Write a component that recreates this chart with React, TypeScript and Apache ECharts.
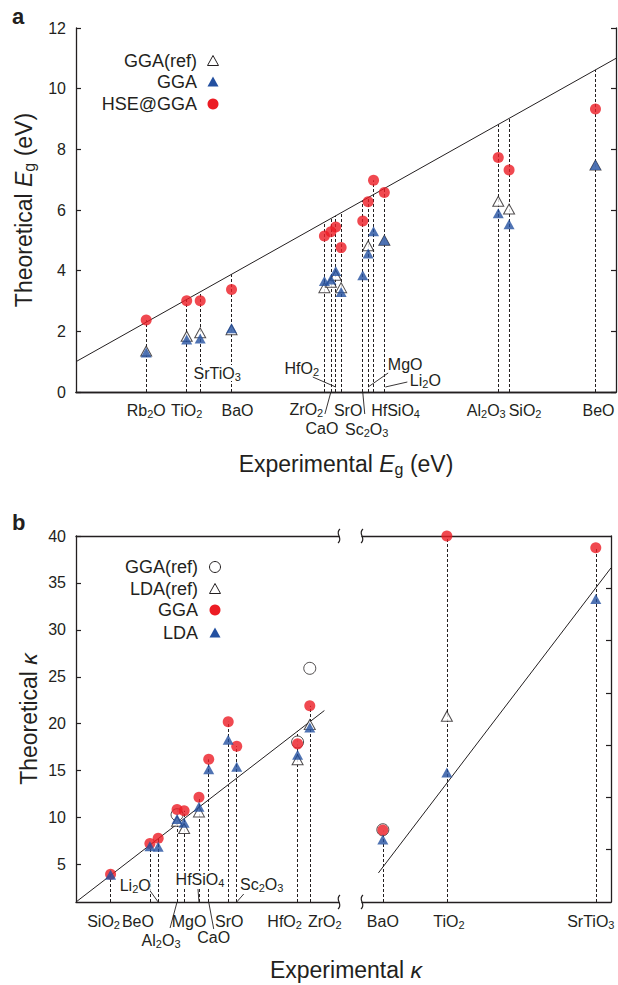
import React, { useEffect, useRef } from 'react';
import * as echarts from 'echarts';

const FONT = '"Liberation Sans", Arial, Helvetica, sans-serif';
const INK = '#231f20';
const RED = '#ec1c24';
const BLUE = '#2350a0';
const W = 618;
const H = 985;

// ---------------- Panel a data (band gaps, eV) ----------------
const aMaterials = ['Rb2O', 'TiO2', 'SrTiO3', 'BaO', 'ZrO2', 'CaO', 'HfO2', 'SrO', 'Sc2O3', 'MgO', 'HfSiO4', 'Li2O', 'Al2O3', 'SiO2', 'BeO'];
const aExperimental = [2.30, 3.05, 3.30, 3.88, 5.60, 5.72, 5.81, 5.91, 6.31, 6.41, 6.51, 6.71, 8.82, 9.02, 10.62];
const aHseAtGga = [2.37, 3.01, 3.01, 3.38, 5.14, 5.28, 5.44, 4.76, 5.64, 6.27, 6.98, 6.58, 7.73, 7.32, 9.33];
const aGga = [1.30, 1.73, 1.76, 2.10, 3.66, 3.71, 3.99, 3.30, 3.85, 4.57, 5.30, 5.00, 5.89, 5.53, 7.48];
const aGgaRef = [1.35, 1.84, 1.95, 2.05, 3.44, 3.62, 3.85, 3.44, null, 4.82, null, 5.00, 6.29, 6.03, 7.48];
const aXRange = [1, 11];
const aYRange = [0, 12];
const aYInterval = 2;
const aIdentity = [[1, 1], [11, 11]];

// ---------------- Panel b data (dielectric constants) ----------------
const bLeftMaterials = ['SiO2', 'BeO', 'Li2O', 'Al2O3', 'MgO', 'HfSiO4', 'CaO', 'SrO', 'Sc2O3', 'HfO2', 'ZrO2'];
const bLeftExperimental = [3.84, 7.07, 7.75, 9.30, 9.88, 11.1, 11.9, 13.5, 14.2, 19.2, 20.2];
const bLeftGga = [3.96, 7.24, 7.80, 10.85, 10.72, 12.15, 16.2, 20.2, 17.6, 17.85, 21.9];
const bLeftLda = [3.90, 6.95, 6.88, 9.85, 9.44, 11.15, 15.15, 18.3, 15.4, 16.7, 19.6];
const bLeftGgaRef = [null, null, null, 10.3, null, null, null, null, null, 18.05, 25.9];
const bLeftLdaRef = [null, null, null, 9.6, 8.84, 10.6, null, null, null, 16.15, 19.9];
const bLeftXRange = [1, 22.6];
const bLeftIdentity = [[1, 1], [21.4, 21.4]];

const bRightMaterials = ['BaO', 'TiO2', 'SrTiO3'];
const bRightExperimental = [34, 114, 300];
const bRightGga = [8.66, 40.0, 38.75];
const bRightLda = [7.67, 14.8, 33.3];
const bRightGgaRef = [8.7, null, null];
const bRightLdaRef = [null, 20.8, null];
const bRightXRange = [8, 319];
const bRightGuide = [[28.5, 4.1], [319, 36.6]];

const bYRange = [1, 40];
const bYTickLabels = [5, 10, 15, 20, 25, 30, 35, 40];
const bRightYTicks = [6.57, 12.14, 17.71, 23.29, 28.86, 34.43];

// ---------------- Layout (pixels) ----------------
const gridA = { left: 76, top: 28, width: 540, height: 364 };
const gridB1 = { left: 76, top: 536, width: 263, height: 366 };
const gridB2 = { left: 362, top: 536, width: 249, height: 366 };

type Lay = { dx: number; dy: number; leader?: number[] };
const aLabelLayout: Lay[] = [
  { dx: 0, dy: 18 },
  { dx: 0, dy: 18 },
  { dx: 17, dy: -19 },
  { dx: 6, dy: 18 },
  { dx: -18, dy: 17 },
  { dx: -9, dy: 36, leader: [-6, 22, 0, 0] },
  { dx: -34, dy: -24, leader: [-23, -15, 0, -5] },
  { dx: 7, dy: 18 },
  { dx: 4, dy: 37, leader: [2, 22, 0, 0] },
  { dx: 37, dy: -28, leader: [20, -19, 0, -5] },
  { dx: 22, dy: 18 },
  { dx: 41, dy: -12, leader: [23, -10, 1, -5] },
  { dx: -12, dy: 18 },
  { dx: 16, dy: 18 },
  { dx: 3, dy: 18 },
];
const bLeftLabelLayout: Lay[] = [
  { dx: -7, dy: 19 },
  { dx: -12, dy: 19 },
  { dx: -23, dy: -17, leader: [-8, -11, 0, 0] },
  { dx: -16, dy: 38, leader: [-7, 26, 0, 0] },
  { dx: 5, dy: 19 },
  { dx: 1, dy: -23, leader: [-1, -13, 0, 0] },
  { dx: 5, dy: 35, leader: [0, 0, 5, 27] },
  { dx: 1, dy: 19 },
  { dx: 25, dy: -18, leader: [7, -8, 0, 0] },
  { dx: -13, dy: 19 },
  { dx: 15, dy: 19 },
];
const bRightLabelLayout: Lay[] = [
  { dx: 0, dy: 19 },
  { dx: 2, dy: 19 },
  { dx: -5, dy: 19 },
];

function chem(s: string): string {
  return ('{n|' + s.replace(/(\d+)/g, '}{s|$1}{n|') + '}').replace(/\{n\|\}/g, '');
}

const labelRich = {
  n: { fontSize: 16, fontFamily: FONT, fill: INK, lineHeight: 16 },
  s: { fontSize: 11, fontFamily: FONT, fill: INK, lineHeight: 11, padding: [8, 0, 0, 0] },
};

function pairs(xs: number[], ys: (number | null)[]) {
  return xs.map((x, i) => [x, ys[i]]).filter((d) => d[1] != null);
}

function dashes(xs: number[], tops: number[], y0: number) {
  return xs.map((x, i) => ({ coords: [[x, y0], [x, tops[i]]] }));
}

const axisLine = { show: true, lineStyle: { color: INK, width: 1.3 } };

function xAxisPair(gridIndex: number, range: number[]) {
  const base = {
    type: 'value', gridIndex, min: range[0], max: range[1],
    axisTick: { show: false }, axisLabel: { show: false }, splitLine: { show: false },
    axisLine,
  };
  return [
    { ...base, position: 'bottom' },
    { ...base, position: 'top' },
  ];
}

function scatter(name: string, xi: number, yi: number, data: any[], symbol: string, size: any, style: any, z = 3) {
  return {
    type: 'scatter', name, xAxisIndex: xi, yAxisIndex: yi, data, symbol, symbolSize: size,
    itemStyle: style, clip: false, silent: true, z,
  };
}

function lineSeries(xi: number, yi: number, data: number[][]) {
  return {
    type: 'line', xAxisIndex: xi, yAxisIndex: yi, data, showSymbol: false, symbol: 'none',
    lineStyle: { color: INK, width: 1 }, silent: true, z: 2,
  };
}

function dashSeries(xi: number, yi: number, data: any[]) {
  return {
    type: 'lines', coordinateSystem: 'cartesian2d', xAxisIndex: xi, yAxisIndex: yi, data,
    lineStyle: { color: INK, width: 1, type: [3, 2], opacity: 1 }, silent: true, z: 1,
  };
}

const openTri = { color: '#ffffff', borderColor: INK, borderWidth: 1 };
const openCirc = { color: '#ffffff', borderColor: INK, borderWidth: 1 };
const redFill = { color: RED };
const blueFill = { color: BLUE };
const TRI = [11, 10];
const CIRC = 11;

function buildOption() {
  const aTops = aExperimental.map((x, i) => Math.max(x, aHseAtGga[i]));
  const bLeftTops = bLeftExperimental.map((x, i) => Math.max(x, bLeftGga[i], bLeftLda[i]));
  const bRightTops = bRightExperimental.map((_, i) => Math.max(bRightGga[i], bRightLda[i]));

  const yName = (text: string) => ({
    name: text,
    nameLocation: 'middle',
    nameRotate: 90,
    nameGap: 36,
    nameTextStyle: {
      fontFamily: FONT, fontSize: 23, color: INK,
      rich: {
        n: { fontFamily: FONT, fontSize: 23, color: INK },
        i: { fontFamily: FONT, fontSize: 23, color: INK, fontStyle: 'italic' },
        s: { fontFamily: FONT, fontSize: 16, color: INK, padding: [10, 0, 0, 0] },
      },
    },
  });

  return {
    animation: false,
    backgroundColor: '#ffffff',
    textStyle: { fontFamily: FONT },
    grid: [
      { ...gridA, containLabel: false },
      { ...gridB1, containLabel: false },
      { ...gridB2, containLabel: false },
    ],
    xAxis: [
      ...xAxisPair(0, aXRange),
      ...xAxisPair(1, bLeftXRange),
      ...xAxisPair(2, bRightXRange),
    ],
    yAxis: [
      {
        type: 'value', gridIndex: 0, position: 'left', min: aYRange[0], max: aYRange[1], interval: aYInterval,
        axisLine, axisTick: { show: true, inside: true, length: 5, lineStyle: { color: INK, width: 1.2 } },
        axisLabel: { fontSize: 16, color: INK, margin: 10, fontFamily: FONT },
        splitLine: { show: false },
        ...yName('{n|Theoretical }{i|E}{s|g}{n| (eV)}'),
      },
      {
        type: 'value', gridIndex: 0, position: 'right', min: aYRange[0], max: aYRange[1], interval: aYInterval,
        axisLine, axisTick: { show: true, inside: true, length: 5, lineStyle: { color: INK, width: 1.2 } },
        axisLabel: { show: false }, splitLine: { show: false },
      },
      {
        type: 'value', gridIndex: 1, position: 'left', min: bYRange[0], max: bYRange[1],
        axisLine,
        axisTick: { show: true, inside: true, length: 5, customValues: bYTickLabels, lineStyle: { color: INK, width: 1.2 } },
        axisLabel: { fontSize: 16, color: INK, margin: 10, fontFamily: FONT, customValues: bYTickLabels },
        splitLine: { show: false },
        ...yName('{n|Theoretical }{i|κ}'),
      },
      {
        type: 'value', gridIndex: 2, position: 'right', min: bYRange[0], max: bYRange[1],
        axisLine,
        axisTick: { show: true, inside: true, length: 5, customValues: bRightYTicks, lineStyle: { color: INK, width: 1.2 } },
        axisLabel: { show: false }, splitLine: { show: false },
      },
    ],
    series: [
      // panel a
      dashSeries(0, 0, dashes(aExperimental, aTops, aYRange[0])),
      lineSeries(0, 0, aIdentity),
      scatter('GGA(ref)', 0, 0, pairs(aExperimental, aGgaRef), 'triangle', TRI, openTri, 3),
      scatter('HSE@GGA', 0, 0, pairs(aExperimental, aHseAtGga), 'circle', CIRC, redFill, 4),
      scatter('GGA', 0, 0, pairs(aExperimental, aGga), 'triangle', TRI, blueFill, 5),
      // panel b left
      dashSeries(2, 2, dashes(bLeftExperimental, bLeftTops, bYRange[0])),
      lineSeries(2, 2, bLeftIdentity),
      scatter('GGA(ref) b', 2, 2, pairs(bLeftExperimental, bLeftGgaRef), 'circle', CIRC + 1, openCirc, 3),
      scatter('LDA(ref) b', 2, 2, pairs(bLeftExperimental, bLeftLdaRef), 'triangle', TRI, openTri, 3),
      scatter('GGA b', 2, 2, pairs(bLeftExperimental, bLeftGga), 'circle', CIRC, redFill, 4),
      scatter('LDA b', 2, 2, pairs(bLeftExperimental, bLeftLda), 'triangle', TRI, blueFill, 5),
      // panel b right
      dashSeries(4, 3, dashes(bRightExperimental, bRightTops, bYRange[0])),
      lineSeries(4, 3, bRightGuide),
      scatter('GGA(ref) c', 4, 3, pairs(bRightExperimental, bRightGgaRef), 'circle', CIRC + 1, openCirc, 3),
      scatter('LDA(ref) c', 4, 3, pairs(bRightExperimental, bRightLdaRef), 'triangle', TRI, openTri, 3),
      scatter('GGA c', 4, 3, pairs(bRightExperimental, bRightGga), 'circle', CIRC, redFill, 4),
      scatter('LDA c', 4, 3, pairs(bRightExperimental, bRightLda), 'triangle', TRI, blueFill, 5),
    ],
  };
}

function textEl(x: number, y: number, text: string, extra: any = {}, z = 100) {
  return {
    type: 'text', x, y, z, silent: true,
    style: { text, fill: INK, fontFamily: FONT, fontSize: 16, align: 'center', verticalAlign: 'middle', ...extra },
  };
}

function legendItems(rightX: number, markerX: number, rows: number[], labels: string[], kinds: string[]) {
  const out: any[] = [];
  rows.forEach((y, i) => {
    out.push(textEl(rightX, y, labels[i], { align: 'right', fontSize: 18 }));
    const k = kinds[i];
    if (k === 'openTri' || k === 'blueTri') {
      out.push({
        type: 'polygon', z: 100, silent: true,
        shape: { points: [[markerX, y - 5.5], [markerX + 5.5, y + 4.5], [markerX - 5.5, y + 4.5]] },
        style: k === 'openTri' ? { fill: '#fff', stroke: INK, lineWidth: 1 } : { fill: BLUE },
      });
    } else {
      out.push({
        type: 'circle', z: 100, silent: true,
        shape: { cx: markerX, cy: y, r: 5.5 },
        style: k === 'openCirc' ? { fill: '#fff', stroke: INK, lineWidth: 1 } : { fill: RED },
      });
    }
  });
  return out;
}

function breakMark(x: number, y: number) {
  return {
    type: 'bezierCurve', z: 100, silent: true,
    shape: { x1: x + 1, y1: y - 7, cpx1: x - 5, cpy1: y - 2, cpx2: x + 5, cpy2: y + 2, x2: x - 1, y2: y + 7 },
    style: { stroke: INK, lineWidth: 1.2, fill: 'none' },
  };
}

function buildGraphic(chart: any) {
  const els: any[] = [];
  const addLabels = (names: string[], xs: number[], layout: Lay[], xi: number, yi: number, y0: number) => {
    names.forEach((name, i) => {
      const p = chart.convertToPixel({ xAxisIndex: xi, yAxisIndex: yi }, [xs[i], y0]);
      const L = layout[i];
      const extra: any = { rich: labelRich };
      if (L.dy < 0) extra.backgroundColor = '#ffffff';
      els.push(textEl(p[0] + L.dx, p[1] + L.dy, chem(name), extra, 100));
      if (L.leader) {
        els.push({
          type: 'line', z: 101, silent: true,
          shape: { x1: p[0] + L.leader[0], y1: p[1] + L.leader[1], x2: p[0] + L.leader[2], y2: p[1] + L.leader[3] },
          style: { stroke: INK, lineWidth: 0.9 },
        });
      }
    });
  };
  addLabels(aMaterials, aExperimental, aLabelLayout, 0, 0, aYRange[0]);
  addLabels(bLeftMaterials, bLeftExperimental, bLeftLabelLayout, 2, 2, bYRange[0]);
  addLabels(bRightMaterials, bRightExperimental, bRightLabelLayout, 4, 3, bYRange[0]);

  const titleRich = {
    n: { fontSize: 23, fontFamily: FONT, fill: INK },
    i: { fontSize: 23, fontFamily: FONT, fill: INK, fontStyle: 'italic' },
    s: { fontSize: 16, fontFamily: FONT, fill: INK, padding: [10, 0, 0, 0] },
  };
  const cx = gridA.left + gridA.width / 2;
  els.push(textEl(cx, 464, '{n|Experimental }{i|E}{s|g}{n| (eV)}', { rich: titleRich, fontSize: 23 }));
  els.push(textEl(cx, 970, '{n|Experimental }{i|κ}', { rich: titleRich, fontSize: 23 }));

  els.push(textEl(12, 16, 'a', { align: 'left', fontSize: 22, fontWeight: 'bold' }));
  els.push(textEl(12, 522, 'b', { align: 'left', fontSize: 22, fontWeight: 'bold' }));

  els.push(...legendItems(197, 213, [61, 82, 104], ['GGA(ref)', 'GGA', 'HSE@GGA'], ['openTri', 'blueTri', 'redCirc']));
  els.push(...legendItems(198, 215, [567, 589, 610, 633], ['GGA(ref)', 'LDA(ref)', 'GGA', 'LDA'], ['openCirc', 'openTri', 'redCirc', 'blueTri']));

  const b1Right = gridB1.left + gridB1.width;
  const b2Left = gridB2.left;
  const top = gridB1.top;
  const bottom = gridB1.top + gridB1.height;
  els.push(breakMark(b1Right, top), breakMark(b2Left, top), breakMark(b1Right, bottom), breakMark(b2Left, bottom));
  return els;
}

export default function App() {
  const ref = useRef<HTMLDivElement>(null);
  useEffect(() => {
    const el = ref.current;
    if (!el) return;
    const chart = echarts.init(el, null, { renderer: 'svg', width: W, height: H });
    chart.setOption(buildOption() as any);
    chart.setOption({ graphic: { elements: buildGraphic(chart) } } as any);
    return () => chart.dispose();
  }, []);
  return (
    <div
      ref={ref}
      style={{ position: 'fixed', left: 0, top: 0, width: W, height: H, background: '#fff' }}
    />
  );
}
